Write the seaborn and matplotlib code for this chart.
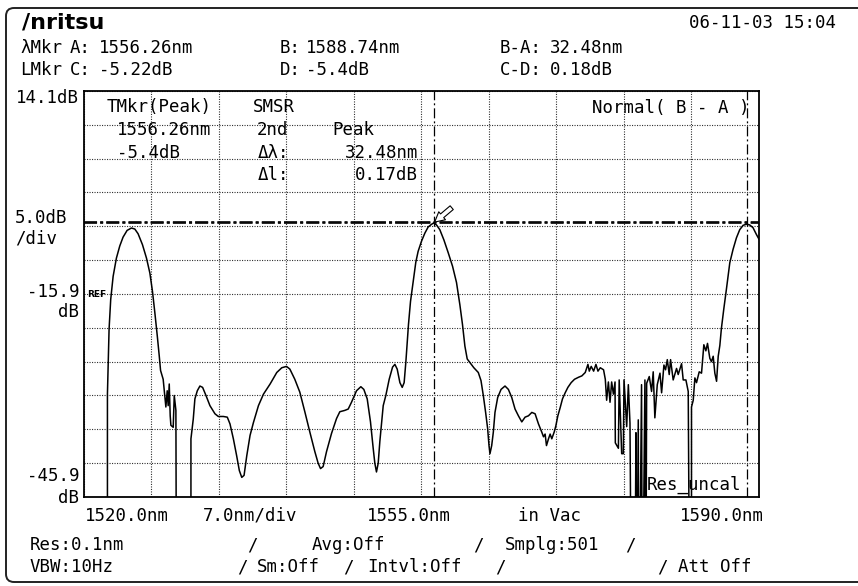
import numpy as np
import pandas as pd
import matplotlib
matplotlib.use("Agg")
import matplotlib.pyplot as plt
from matplotlib.path import Path
from matplotlib.patches import PathPatch
import seaborn as sns

# ---- trace samples: wavelength (nm) and level (dB); -70 = below display floor
wavelength_nm = [
    1520.00, 1522.43, 1522.43, 1522.60, 1522.77, 1523.02, 1523.36, 1523.71, 1524.05, 1524.47,
    1524.92, 1525.27, 1525.61, 1526.06, 1526.48, 1526.83, 1527.10, 1527.35, 1527.60, 1527.80,
    1527.94, 1528.21, 1528.39, 1528.49, 1528.63, 1528.73, 1528.84, 1528.94, 1529.01, 1529.25,
    1529.36, 1529.53, 1529.60, 1531.09, 1531.09, 1531.33, 1531.50, 1531.75, 1532.02, 1532.30,
    1532.65, 1533.06, 1533.58, 1533.93, 1534.45, 1534.86, 1535.14, 1535.49, 1535.83, 1536.11,
    1536.36, 1536.60, 1536.88, 1537.22, 1537.57, 1538.09, 1538.61, 1539.30, 1539.99, 1540.51,
    1541.00, 1541.35, 1541.86, 1542.38, 1542.90, 1543.42, 1543.94, 1544.28, 1544.53, 1544.80,
    1545.15, 1545.67, 1546.19, 1546.53, 1547.05, 1547.40, 1547.74, 1548.26, 1548.71, 1549.02,
    1549.37, 1549.71, 1549.99, 1550.16, 1550.33, 1550.51, 1550.68, 1551.03, 1551.30, 1551.65,
    1552.00, 1552.24, 1552.48, 1552.76, 1553.00, 1553.20, 1553.38, 1553.52, 1553.65, 1553.86,
    1554.14, 1554.41, 1554.65, 1555.00, 1555.35, 1555.69, 1556.04, 1556.26, 1556.56, 1556.90,
    1557.32, 1557.77, 1558.22, 1558.63, 1558.98, 1559.25, 1559.50, 1559.74, 1560.01, 1560.43,
    1560.89, 1561.17, 1561.41, 1561.65, 1561.86, 1562.00, 1562.10, 1562.28, 1562.45, 1562.62,
    1562.90, 1563.25, 1563.66, 1564.01, 1564.36, 1564.70, 1565.05, 1565.40, 1565.74, 1566.09,
    1566.44, 1566.78, 1567.13, 1567.47, 1567.65, 1567.82, 1567.96, 1568.17, 1568.34, 1568.51,
    1568.76, 1568.93, 1569.14, 1569.38, 1569.62, 1569.90, 1570.18, 1570.52, 1570.87, 1571.29,
    1571.63, 1571.98, 1572.26, 1572.40, 1572.60, 1572.85, 1573.09, 1573.30, 1573.54, 1573.88,
    1574.06, 1574.20, 1574.38, 1574.55, 1574.72, 1574.90, 1575.07, 1575.10, 1575.42, 1575.50,
    1575.76, 1575.93, 1576.00, 1576.28, 1576.45, 1576.62, 1576.79, 1577.10, 1577.24, 1577.30,
    1577.48, 1577.55, 1577.82, 1577.90, 1578.17, 1578.25, 1578.35, 1578.62, 1578.86, 1579.03,
    1579.20, 1579.45, 1579.73, 1579.90, 1580.14, 1580.31, 1580.49, 1580.69, 1580.83, 1581.10,
    1581.45, 1581.62, 1581.97, 1582.14, 1582.42, 1582.66, 1582.83, 1583.00, 1583.00, 1583.18,
    1583.35, 1583.52, 1583.80, 1584.04, 1584.28, 1584.49, 1584.66, 1584.90, 1585.07, 1585.25,
    1585.42, 1585.60, 1585.77, 1585.94, 1586.10, 1586.35, 1586.62, 1586.97, 1587.31, 1587.66,
    1588.00, 1588.35, 1588.74, 1589.04, 1589.38, 1589.73, 1590.00,
]
level_db = [
    -70.0, -70.0, -30.7, -21.1, -16.7, -13.3, -10.6, -8.8, -7.5, -6.5,
    -6.15, -6.3, -7.0, -8.6, -10.6, -12.8, -15.5, -18.7, -22.1, -25.0,
    -27.2, -28.5, -31.2, -32.6, -30.2, -32.4, -29.2, -33.9, -35.3, -35.6,
    -30.9, -33.1, -70.0, -70.0, -37.3, -34.4, -31.4, -30.2, -29.5, -29.7,
    -30.9, -32.4, -33.6, -34.0, -34.0, -34.1, -35.1, -37.3, -39.8, -42.0,
    -43.0, -42.7, -39.8, -36.8, -34.9, -32.4, -30.7, -29.2, -27.5, -26.8,
    -26.6, -27.0, -28.5, -30.4, -33.3, -36.3, -39.2, -40.9, -41.7, -41.4,
    -39.2, -36.5, -34.3, -33.3, -33.1, -32.9, -31.9, -30.2, -29.6, -30.0,
    -31.4, -34.8, -38.7, -40.9, -42.2, -40.9, -37.7, -32.4, -30.9, -28.5,
    -26.7, -26.3, -27.0, -29.0, -29.7, -29.0, -25.9, -23.1, -20.4, -17.0,
    -14.0, -11.2, -9.6, -8.1, -6.9, -6.0, -5.6, -5.4, -5.7, -6.4,
    -7.9, -9.8, -11.8, -14.2, -17.5, -20.4, -23.6, -25.5, -26.0, -26.8,
    -27.5, -28.7, -30.9, -33.4, -35.8, -38.3, -39.5, -38.3, -36.3, -33.4,
    -31.2, -30.0, -29.5, -30.0, -31.2, -32.9, -33.9, -34.8, -34.1, -33.9,
    -33.4, -33.6, -35.1, -36.3, -37.0, -36.6, -38.3, -37.3, -36.6, -37.3,
    -36.3, -35.4, -33.9, -32.7, -31.4, -30.5, -29.7, -29.0, -28.5, -28.2,
    -28.0, -27.5, -26.3, -27.3, -26.6, -27.3, -26.3, -27.3, -26.8, -27.1,
    -28.5, -31.6, -28.9, -31.9, -28.9, -30.7, -28.9, -37.9, -38.7, -28.6,
    -39.5, -39.5, -28.6, -35.5, -29.3, -35.0, -70.0, -70.0, -36.4, -70.0,
    -34.5, -70.0, -29.3, -70.0, -28.6, -70.0, -29.1, -28.1, -30.3, -27.4,
    -34.2, -29.3, -27.6, -30.5, -26.4, -27.1, -25.6, -27.8, -25.6, -28.6,
    -26.9, -27.8, -26.2, -28.6, -28.6, -30.3, -70.0, -70.0, -32.6, -31.6,
    -28.3, -29.0, -27.4, -27.6, -23.4, -24.3, -23.2, -25.4, -25.9, -25.1,
    -27.6, -28.8, -25.1, -23.5, -21.0, -18.1, -15.2, -11.3, -9.3, -7.6,
    -6.4, -5.75, -5.57, -5.7, -6.1, -7.1, -7.8,
]

# ---- markers and scale
marker_a_nm = 1556.26
marker_b_nm = 1588.74
level_c_db = -5.22
level_d_db = -5.4
x_start, x_stop, x_step = 1520.0, 1590.0, 7.0
y_top, y_step, y_divs = 14.1, 5.0, 12

sns.set_style("white")
plt.rcParams["font.family"] = ["DejaVu Sans Mono", "DejaVu Sans"]
plt.rcParams["lines.scale_dashes"] = False

W, H = 858, 586
fig = plt.figure(figsize=(W / 100, H / 100), dpi=100)
fig.patch.set_facecolor("white")


def fx(x):
    return x / W


def fy(y):
    return 1 - y / H


ax = fig.add_axes([fx(84), fy(497), 675 / W, 406 / H])
y_bottom = y_top - y_step * y_divs

trace = pd.DataFrame({"wavelength_nm": wavelength_nm, "level_db": level_db})
sns.lineplot(data=trace, x="wavelength_nm", y="level_db", estimator=None, sort=False,
             color="black", linewidth=1.1, ax=ax, zorder=4)

ax.set_xlim(x_start, x_stop)
ax.set_ylim(y_bottom, y_top)
ax.set_xticks(np.arange(x_start, x_stop + 0.01, x_step))
ax.set_yticks(y_bottom + y_step * np.arange(y_divs + 1))
ax.tick_params(length=0, labelbottom=False, labelleft=False)
ax.set_xlabel("")
ax.set_ylabel("")
ax.grid(True, color="#333333", linestyle=(0, (0.8, 1.0)), linewidth=0.8)
for sp in ax.spines.values():
    sp.set_color("black")
    sp.set_linewidth(1.3)

# level markers (C, D) and wavelength markers (A, B)
hdash = (0, (9.4, 2.2, 2.2, 2.2))
vdash = (0, (7.2, 2.2, 1.4, 2.2))
ax.axhline(level_c_db, color="black", linewidth=1.2, linestyle=hdash, zorder=3)
ax.axhline(level_d_db, color="black", linewidth=1.2, linestyle=hdash, zorder=3)
ax.axvline(marker_a_nm, color="black", linewidth=0.9, linestyle=vdash, zorder=3)
ax.axvline(marker_b_nm, color="black", linewidth=0.9, linestyle=vdash, zorder=3)

# peak pointer
ax.annotate("", xy=(marker_a_nm, level_d_db), xytext=(13, 11), textcoords="offset points",
            arrowprops=dict(arrowstyle="simple,head_length=0.7,head_width=0.75,tail_width=0.35",
                            fc="white", ec="black", lw=0.8, shrinkA=0, shrinkB=1), zorder=6)

FS = 12.5


def put(x, y, s, ha="left", size=FS, **kw):
    fig.text(fx(x), fy(y), s, ha=ha, va="baseline", fontsize=size, color="black", **kw)


# header
put(22, 28, "/nritsu", size=16, family=["DejaVu Sans"], fontweight="bold")
put(689, 28, "06-11-03 15:04")
for x, s in [(20, "λMkr"), (70, "A:"), (99, "1556.26nm"), (280, "B:"), (306, "1588.74nm"),
             (500, "B-A:"), (550, "32.48nm")]:
    put(x, 53, s)
for x, s in [(20, "LMkr"), (70, "C:"), (99, "-5.22dB"), (280, "D:"), (306, "-5.4dB"),
             (500, "C-D:"), (550, "0.18dB")]:
    put(x, 75, s)

# level scale labels
put(79, 103, "14.1dB", ha="right")
put(15, 223, "5.0dB")
put(15, 243, "/div")
put(79, 297, "-15.9", ha="right")
put(79, 317, "dB", ha="right")
put(79, 481, "-45.9", ha="right")
put(79, 503, "dB", ha="right")
put(87, 297, "REF", size=6.5, family=["DejaVu Sans"], fontweight="bold")

# in-plot annotations
put(107, 112, "TMkr(Peak)")
put(117, 135, "1556.26nm")
put(117, 158, "-5.4dB")
put(253, 112, "SMSR")
put(257, 135, "2nd")
put(332, 135, "Peak")
put(258, 158, "Δλ:")
put(418, 158, "32.48nm", ha="right")
put(258, 180, "Δl:")
put(418, 180, "0.17dB", ha="right")
put(592, 113, "Normal( B - A )")
put(647, 490, "Res_uncal")

# wavelength scale labels
for x, s in [(85, "1520.0nm"), (203, "7.0nm/div"), (367, "1555.0nm"), (518, "in Vac"),
             (680, "1590.0nm")]:
    put(x, 521, s)

# measurement conditions
for x, s in [(30, "Res:0.1nm"), (247, "/"), (312, "Avg:Off"), (473, "/"), (505, "Smplg:501"),
             (625, "/")]:
    put(x, 550, s)
for x, s in [(30, "VBW:10Hz"), (237, "/"), (257, "Sm:Off"), (343, "/"), (367, "Intvl:Off"),
             (495, "/"), (657, "/"), (678, "Att Off")]:
    put(x, 572, s)

# screen frame
r = 8
verts = [(W, 8), (6 + r, 8), (6, 8), (6, 8 + r), (6, 582 - r), (6, 582), (6 + r, 582), (W, 582)]
codes = [Path.MOVETO, Path.LINETO, Path.CURVE3, Path.CURVE3, Path.LINETO, Path.CURVE3,
         Path.CURVE3, Path.LINETO]
verts = [(fx(x), fy(y)) for x, y in verts]
fig.patches.append(PathPatch(Path(verts, codes), transform=fig.transFigure, fill=False,
                             edgecolor="#222222", linewidth=1.4))

fig.savefig("out.png", dpi=100, facecolor="white")
